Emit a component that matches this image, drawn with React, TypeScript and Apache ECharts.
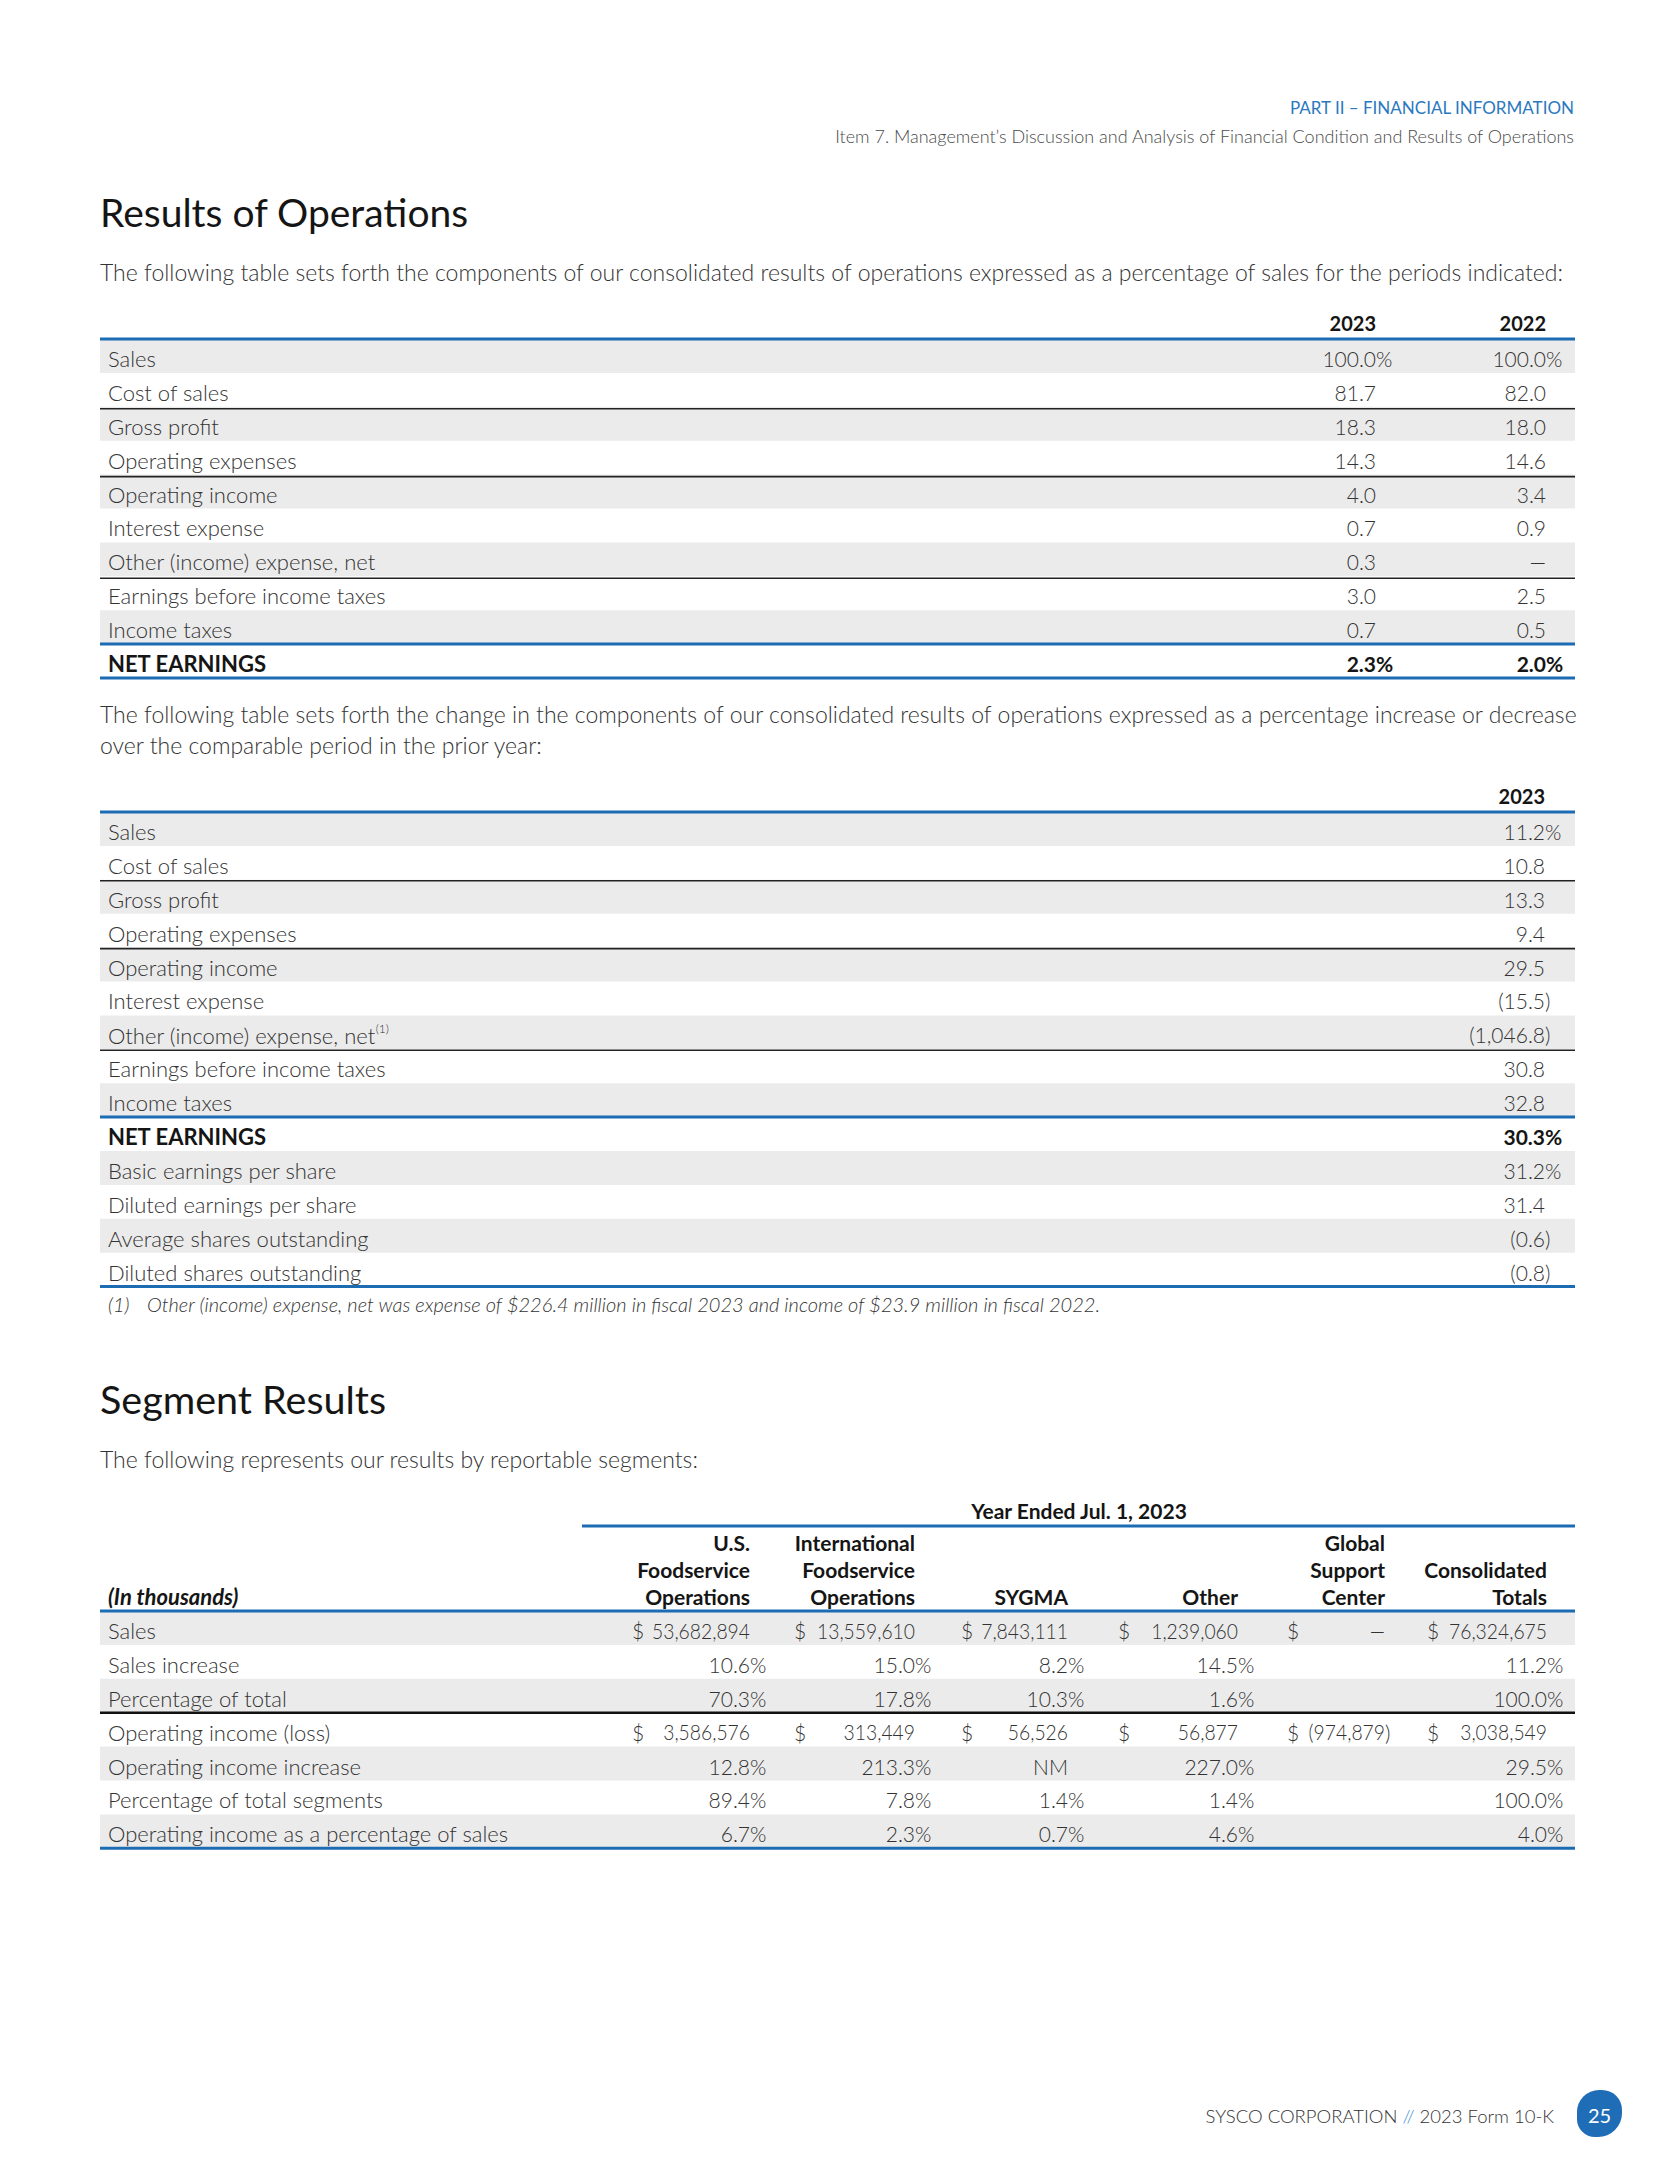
import React, { useEffect, useRef } from "react";
import * as echarts from "echarts";

// ---------- DATA ----------
const headerPart = "PART II – FINANCIAL INFORMATION";
const headerItem = "Item 7. Management’s Discussion and Analysis of Financial Condition and Results of Operations";
const title1 = "Results of Operations";
const para1 = "The following table sets forth the components of our consolidated results of operations expressed as a percentage of sales for the periods indicated:";
const t1Years = ["2023", "2022"];
const t1Labels = ["Sales", "Cost of sales", "Gross profit", "Operating expenses", "Operating income", "Interest expense", "Other (income) expense, net", "Earnings before income taxes", "Income taxes", "NET EARNINGS"];
const t1Values2023 = ["100.0%", "81.7", "18.3", "14.3", "4.0", "0.7", "0.3", "3.0", "0.7", "2.3%"];
const t1Values2022 = ["100.0%", "82.0", "18.0", "14.6", "3.4", "0.9", "—", "2.5", "0.5", "2.0%"];

const para2a = "The following table sets forth the change in the components of our consolidated results of operations expressed as a percentage increase or decrease";
const para2b = "over the comparable period in the prior year:";
const t2Year = "2023";
const t2Labels = ["Sales", "Cost of sales", "Gross profit", "Operating expenses", "Operating income", "Interest expense", "Other (income) expense, net", "Earnings before income taxes", "Income taxes", "NET EARNINGS", "Basic earnings per share", "Diluted earnings per share", "Average shares outstanding", "Diluted shares outstanding"];
const t2Values = ["11.2%", "10.8", "13.3", "9.4", "29.5", "(15.5)", "(1,046.8)", "30.8", "32.8", "30.3%", "31.2%", "31.4", "(0.6)", "(0.8)"];
const footnoteNum = "(1)";
const footnoteText = "Other (income) expense, net was expense of $226.4 million in fiscal 2023 and income of $23.9 million in fiscal 2022.";

const title2 = "Segment Results";
const para3 = "The following represents our results by reportable segments:";
const segPeriod = "Year Ended Jul. 1, 2023";
const segUnits = "(In thousands)";
const segHeaders = [["U.S.", "Foodservice", "Operations"], ["International", "Foodservice", "Operations"], ["SYGMA"], ["Other"], ["Global", "Support", "Center"], ["Consolidated", "Totals"]];
const segLabels = ["Sales", "Sales increase", "Percentage of total", "Operating income (loss)", "Operating income increase", "Percentage of total segments", "Operating income as a percentage of sales"];
const segSales = ["53,682,894", "13,559,610", "7,843,111", "1,239,060", "—", "76,324,675"];
const segSalesIncrease = ["10.6%", "15.0%", "8.2%", "14.5%", "", "11.2%"];
const segPctTotal = ["70.3%", "17.8%", "10.3%", "1.6%", "", "100.0%"];
const segOpIncome = ["3,586,576", "313,449", "56,526", "56,877", "(974,879)", "3,038,549"];
const segOpIncrease = ["12.8%", "213.3%", "NM", "227.0%", "", "29.5%"];
const segPctSegments = ["89.4%", "7.8%", "1.4%", "1.4%", "", "100.0%"];
const segOpPctSales = ["6.7%", "2.3%", "0.7%", "4.6%", "", "4.0%"];
const segDollarRows = [0, 3];

const footerCompany = "SYSCO CORPORATION";
const footerForm = "2023 Form 10-K";
const pageNumber = "25";

// ---------- LAYOUT / STYLE ----------
const FONT = "Lato";
const BLUE = "#1c6cb4";
const TEXT = "#333333";
const DARK = "#151515";
const GRAY_BG = "#ebebeb";
const L = 100;
const R = 1575;
const ROW = 33.9;
const LABEL = 22;
const NUM = 21;
const PARA = 23;
const HEAD = 21;
const DY = 2.5;

function t(x: number, y: number, text: string, o: any = {}) {
  const el: any = {
    type: "text",
    x,
    y,
    silent: true,
    style: {
      text,
      fill: o.fill || TEXT,
      fontFamily: FONT,
      fontSize: o.size || LABEL,
      fontWeight: o.weight || 300,
      fontStyle: o.italic ? "italic" : "normal",
      align: o.align || "left",
      verticalAlign: "middle",
      rich: o.rich,
    },
  };
  if (o.scaleX) el.scaleX = o.scaleX;
  return el;
}
function hline(y: number, x1: number, x2: number, color: string, w: number) {
  return { type: "rect", silent: true, shape: { x: x1, y: y - w / 2, width: x2 - x1, height: w }, style: { fill: color } };
}
function band(y: number, h: number) {
  return { type: "rect", silent: true, shape: { x: L, y, width: R - L, height: h }, style: { fill: GRAY_BG } };
}
// numbers right-aligned at col, trailing % or ) hanging past col
function num(x: number, y: number, s: string, o: any = {}) {
  const out: any[] = [];
  const oo = { size: NUM, ...o };
  const last = s.charAt(s.length - 1);
  if (s.length > 1 && (last === "%" || last === ")")) {
    out.push(t(x, y, s.slice(0, -1), { ...oo, align: "right" }));
    out.push(t(x, y, last, { ...oo, align: "left", scaleX: 1 }));
  } else {
    out.push(t(x, y, s, { ...oo, align: "right" }));
  }
  return out;
}

function buildElements() {
  const els: any[] = [];
  // page header
  els.push(t(1574, 107, headerPart, { fill: "#2a78c0", size: 17, align: "right", weight: 400 }));
  els.push(t(1574, 136, headerItem, { fill: "#4a4a4a", size: 18, align: "right" }));

  // Results of operations
  els.push(t(L, 212, title1, { fill: DARK, size: 39, weight: 400 }));
  els.push(t(L, 272, para1, { size: PARA }));

  // table 1
  const t1Cols = [1376, 1546];
  const top1 = 339;
  t1Years.forEach((yr, i) => els.push(t(t1Cols[i], 323, yr, { weight: 700, fill: DARK, size: 20, align: "right" })));
  t1Labels.forEach((lab, i) => {
    if (i % 2 === 0) els.push(band(top1 + i * ROW, ROW));
  });
  t1Labels.forEach((lab, i) => {
    const yc = top1 + i * ROW + ROW / 2 + DY;
    const bold = i === t1Labels.length - 1;
    const o = bold ? { weight: 700, fill: DARK } : {};
    els.push(t(108, yc, lab, o));
    els.push(...num(t1Cols[0], yc, t1Values2023[i], o));
    els.push(...num(t1Cols[1], yc, t1Values2022[i], o));
  });
  [1, 3, 6].forEach((i) => els.push(hline(top1 + (i + 1) * ROW + 2, L, R, "#222", 1.6)));
  els.push(hline(top1, L, R, BLUE, 3));
  els.push(hline(top1 + 9 * ROW, L, R, BLUE, 3));
  els.push(hline(top1 + 10 * ROW, L, R, BLUE, 3));

  // paragraph 2
  els.push(t(L, 714, para2a, { size: PARA }));
  els.push(t(L, 745, para2b, { size: PARA }));

  // table 2
  const top2 = 812;
  const c2 = 1545;
  els.push(t(c2, 796, t2Year, { weight: 700, fill: DARK, size: 20, align: "right" }));
  t2Labels.forEach((lab, i) => {
    if (i % 2 === 0) els.push(band(top2 + i * ROW, ROW));
  });
  t2Labels.forEach((lab, i) => {
    const yc = top2 + i * ROW + ROW / 2 + DY;
    const bold = i === 9;
    const o = bold ? { weight: 700, fill: DARK } : {};
    if (i === 6) {
      els.push(t(108, yc, "{a|" + lab + "}{s|" + footnoteNum + "}", {
        rich: {
          a: { fontFamily: FONT, fontSize: LABEL, fontWeight: 300, fill: TEXT, lineHeight: 24, verticalAlign: "bottom" },
          s: { fontFamily: FONT, fontSize: 12, fontWeight: 300, fill: TEXT, lineHeight: 24, verticalAlign: "top" },
        },
      }));
    } else {
      els.push(t(108, yc, lab, o));
    }
    els.push(...num(c2, yc, t2Values[i], o));
  });
  [1, 3, 6].forEach((i) => els.push(hline(top2 + (i + 1) * ROW + 1, L, R, "#222", 1.6)));
  els.push(hline(top2, L, R, BLUE, 3));
  els.push(hline(top2 + 9 * ROW, L, R, BLUE, 3));
  els.push(hline(top2 + 14 * ROW, L, R, BLUE, 3));
  els.push(t(108, 1304, footnoteNum, { italic: true, size: 20 }));
  els.push(t(147, 1304, footnoteText, { italic: true, size: 20 }));

  // Segment results
  els.push(t(L, 1398, title2, { fill: DARK, size: 39.5, weight: 400 }));
  els.push(t(L, 1459, para3, { size: PARA }));
  els.push(t(1079, 1510, segPeriod, { weight: 700, fill: DARK, size: HEAD, align: "center" }));
  els.push(hline(1526, 582, R, BLUE, 3));

  const colRight = [750, 915, 1068, 1238, 1385, 1547];
  const colDollar = [632, 794, 961, 1118, 1287, 1427];
  const headLineY = [1542, 1569, 1596];
  segHeaders.forEach((lines, c) => {
    const off = 3 - lines.length;
    lines.forEach((ln, k) => {
      els.push(t(colRight[c], headLineY[off + k], ln, { weight: 700, fill: DARK, size: HEAD, align: "right" }));
    });
  });
  els.push(t(108, 1596, segUnits, { weight: 700, italic: true, fill: DARK, size: 22 }));

  const top3 = 1611;
  const segRows = [segSales, segSalesIncrease, segPctTotal, segOpIncome, segOpIncrease, segPctSegments, segOpPctSales];
  segLabels.forEach((lab, i) => {
    if (i % 2 === 0) els.push(band(top3 + i * ROW, ROW));
  });
  segLabels.forEach((lab, i) => {
    const yc = top3 + i * ROW + ROW / 2 + DY;
    els.push(t(108, yc, lab));
    const isDollar = segDollarRows.indexOf(i) >= 0;
    segRows[i].forEach((v, c) => {
      if (isDollar) els.push(t(colDollar[c], yc, "$", { size: NUM }));
      if (v) els.push(...num(colRight[c], yc, v, isDollar ? { scaleX: 0.92 } : {}));
    });
  });
  els.push(hline(top3, L, R, BLUE, 3));
  els.push(hline(top3 + 3 * ROW, L, R, "#111", 2.4));
  els.push(hline(top3 + 7 * ROW, L, R, BLUE, 3));

  // footer
  els.push(t(1554, 2116, "{a|" + footerCompany + " }{b|//}{a| " + footerForm + "}", {
    align: "right",
    rich: {
      a: { fontFamily: FONT, fontSize: 18.5, fontWeight: 300, fill: "#333" },
      b: { fontFamily: FONT, fontSize: 18.5, fontWeight: 300, fill: "#3d8fd6" },
    },
  }));
  els.push({ type: "rect", silent: true, shape: { x: 1577, y: 2090, width: 45, height: 47, r: [22, 20, 24, 18] }, style: { fill: "#1f6db7" } });
  els.push(t(1599.5, 2115, pageNumber, { fill: "#fff", size: 20, align: "center", weight: 400 }));
  return els;
}

export default function App() {
  const ref = useRef<HTMLDivElement>(null);
  useEffect(() => {
    if (!ref.current) return;
    const chart = echarts.init(ref.current, undefined, { renderer: "svg" });
    chart.setOption({
      animation: false,
      backgroundColor: "#ffffff",
      graphic: { elements: buildElements() },
    });
    return () => chart.dispose();
  }, []);
  return (
    <div
      ref={ref}
      style={{ position: "fixed", left: 0, top: 0, width: 1675, height: 2175, background: "#fff" }}
    />
  );
}
